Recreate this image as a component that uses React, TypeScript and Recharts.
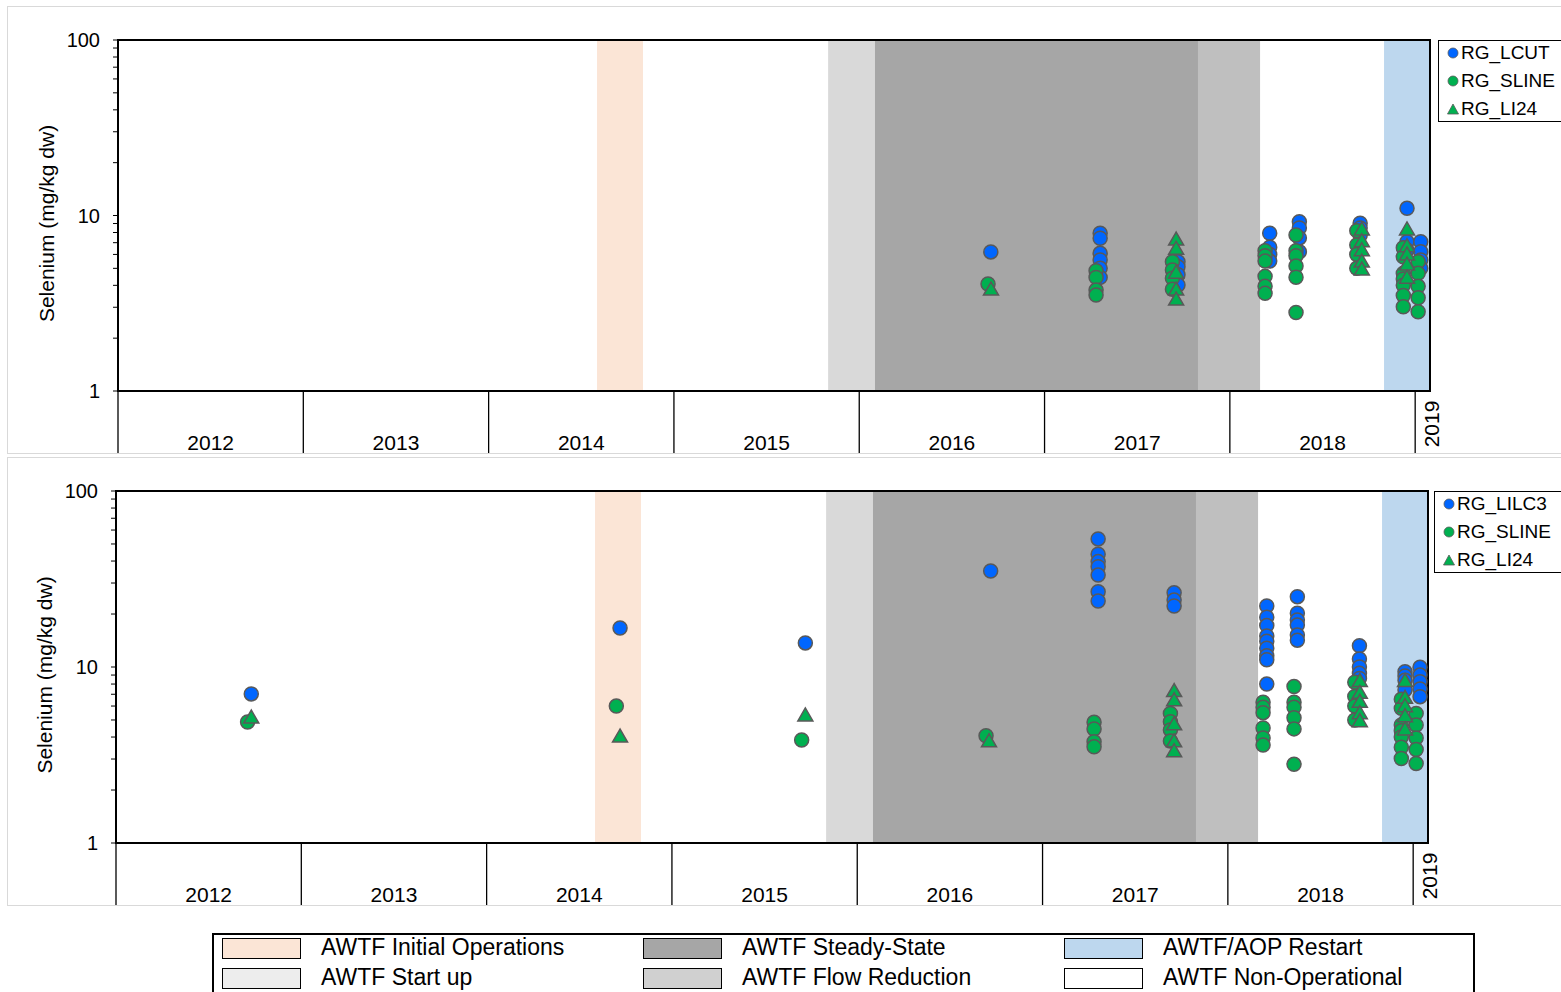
import React from 'react';
import { ScatterChart, Scatter, XAxis, YAxis, ReferenceArea } from 'recharts';

const FONT = '"Liberation Sans", Arial, Helvetica, sans-serif';

// ---------- axes ----------
const X_DOMAIN: [number, number] = [2012, 2019.08];
const YEAR_STARTS = [2012, 2013, 2014, 2015, 2016, 2017, 2018, 2019];
const YEAR_MIDS = [2012.5, 2013.5, 2014.5, 2015.5, 2016.5, 2017.5, 2018.5];
const Y_TICKS = [1, 2, 3, 4, 5, 6, 7, 8, 9, 10, 20, 30, 40, 50, 60, 70, 80, 90, 100];
const Y_LABELED = [1, 10, 100];
const Y_TITLE = 'Selenium (mg/kg dw)';

// ---------- operating periods ----------
const BAND_NAMES = ['AWTF Initial Operations', 'AWTF Start up', 'AWTF Steady-State', 'AWTF Flow Reduction', 'AWTF/AOP Restart'];
const BAND_START = [2014.585, 2015.832, 2016.085, 2017.828, 2018.832];
const BAND_END = [2014.833, 2016.085, 2017.828, 2018.163, 2019.08];
const BAND_FILL = ['#fbe5d6', '#d9d9d9', '#a6a6a6', '#bfbfbf', '#bdd7ee'];

const LEGEND_NAMES = [
  ['AWTF Initial Operations', 'AWTF Start up'],
  ['AWTF Steady-State', 'AWTF Flow Reduction'],
  ['AWTF/AOP Restart', 'AWTF Non-Operational'],
];
const LEGEND_FILLS = [
  ['#fbe5d6', '#ededed'],
  ['#a6a6a6', '#d0d0d0'],
  ['#bdd7ee', '#ffffff'],
];

// ---------- data: [decimal year, Se mg/kg dw] ----------
const RG_LCUT: [number, number][] = [
  [2016.71, 6.2],
  [2017.3, 7.92], [2017.3, 7.42], [2017.3, 6.09], [2017.3, 5.58], [2017.3, 5.0], [2017.3, 4.44],
  [2017.72, 5.45], [2017.72, 5.1], [2017.72, 4.6], [2017.72, 4.02],
  [2018.215, 7.92], [2018.215, 6.6], [2018.215, 6.0], [2018.215, 5.5],
  [2018.375, 9.22], [2018.375, 8.49], [2018.375, 7.45], [2018.375, 6.22],
  [2018.703, 9.03], [2018.703, 8.5], [2018.703, 7.7],
  [2018.956, 10.99], [2018.956, 7.09], [2018.956, 6.35],
  [2019.03, 7.09], [2019.03, 6.22], [2019.03, 5.58], [2019.03, 5.0],
];

const RG_LILC3: [number, number][] = [
  [2012.73, 7.03],
  [2014.72, 16.66],
  [2015.72, 13.7],
  [2016.72, 35.1],
  [2017.3, 53.4], [2017.3, 43.7], [2017.3, 39.7], [2017.3, 37.1], [2017.3, 33.3], [2017.3, 26.8], [2017.3, 23.7],
  [2017.71, 26.4], [2017.71, 24.0], [2017.71, 22.2],
  [2018.21, 22.2], [2018.21, 19.2], [2018.21, 17.2], [2018.21, 15.0], [2018.21, 14.0], [2018.21, 12.8], [2018.21, 11.6], [2018.21, 11.0], [2018.21, 8.0],
  [2018.375, 25.1], [2018.375, 20.2], [2018.375, 18.5], [2018.375, 17.3], [2018.375, 15.2], [2018.375, 14.2],
  [2018.71, 13.2], [2018.71, 11.1], [2018.71, 10.0], [2018.71, 9.2], [2018.71, 8.6],
  [2018.956, 9.4], [2018.956, 8.9], [2018.956, 8.4], [2018.956, 7.4],
  [2019.037, 9.96], [2019.037, 9.0], [2019.037, 8.25], [2019.037, 7.5], [2019.037, 6.78],
];

const RG_SLINE_EARLY: [number, number][] = [
  [2012.71, 4.87],
  [2014.7, 6.0],
  [2015.7, 3.85],
];

const RG_SLINE: [number, number][] = [
  [2016.695, 4.07],
  [2017.278, 4.85], [2017.278, 4.44], [2017.278, 3.76], [2017.278, 3.52],
  [2017.69, 5.45], [2017.69, 4.89], [2017.69, 4.39], [2017.69, 3.8],
  [2018.19, 6.3], [2018.19, 5.9], [2018.19, 5.5], [2018.19, 4.5], [2018.19, 3.95], [2018.19, 3.6],
  [2018.357, 7.74], [2018.357, 6.3], [2018.357, 5.9], [2018.357, 5.15], [2018.357, 4.45], [2018.357, 2.8],
  [2018.685, 8.2], [2018.685, 6.8], [2018.685, 6.0], [2018.685, 5.0],
  [2018.936, 6.55], [2018.936, 5.82], [2018.936, 4.68], [2018.936, 4.35], [2018.936, 4.0], [2018.936, 3.5], [2018.936, 3.02],
  [2019.016, 5.45], [2019.016, 4.68], [2019.016, 3.95], [2019.016, 3.4], [2019.016, 2.83],
];

const RG_LI24_EARLY: [number, number][] = [
  [2012.73, 5.13],
  [2014.72, 4.0],
  [2015.72, 5.27],
];

const RG_LI24: [number, number][] = [
  [2016.711, 3.76],
  [2017.71, 7.25], [2017.71, 6.42], [2017.71, 4.69], [2017.71, 3.76], [2017.71, 3.3],
  [2018.712, 8.27], [2018.712, 7.09], [2018.712, 6.3], [2018.712, 5.43], [2018.712, 4.89],
  [2018.956, 8.27], [2018.956, 6.64], [2018.956, 5.95], [2018.956, 5.22], [2018.956, 4.39],
];

const toPts = (arr: [number, number][]) => arr.map(([x, y]) => ({ x, y }));

const BLUE = '#0066ff';
const GREEN = '#00b050';
const EDGE = '#595959';

const circleShape = (fill: string) => (p: any) => (
  <circle cx={p.cx} cy={p.cy} r={7} fill={fill} stroke={EDGE} strokeWidth={1.5} />
);
const triShape = (p: any) => (
  <polygon
    points={`${p.cx},${p.cy - 8} ${p.cx - 7.5},${p.cy + 5} ${p.cx + 7.5},${p.cy + 5}`}
    fill={GREEN}
    stroke={EDGE}
    strokeWidth={1.5}
  />
);

type PanelProps = {
  top: number;
  left: number;
  height: number;
  blue: [number, number][];
  sline: [number, number][];
  li24: [number, number][];
};

function Panel({ top, left, height, blue, sline, li24 }: PanelProps) {
  const W = 1561;
  const H = height;
  const plotBottom = H - 63;

  const xTick = (p: any) => {
    const { x, payload } = p;
    const v = payload.value as number;
    if (YEAR_STARTS.includes(v)) {
      return (
        <g>
          <line x1={x} x2={x} y1={plotBottom} y2={H} stroke="#000" strokeWidth={1.3} />
          {v === 2019 && (
            <text
              x={x + 24}
              y={H - 30}
              transform={`rotate(-90 ${x + 24} ${H - 30})`}
              textAnchor="middle"
              fontSize={21}
              fontFamily={FONT}
              fill="#000"
            >
              2019
            </text>
          )}
        </g>
      );
    }
    return (
      <text x={x} y={H - 4} textAnchor="middle" fontSize={21} fontFamily={FONT} fill="#000">
        {String(Math.floor(v))}
      </text>
    );
  };

  const yLabel = (p: any) => {
    const vb = p.viewBox || { x: 0, y: 40, width: 118, height: H - 103 };
    const cy = vb.y + vb.height / 2 + 8;
    const cx = 54;
    return (
      <text
        x={cx}
        y={cy}
        transform={`rotate(-90 ${cx} ${cy})`}
        textAnchor="middle"
        fontSize={21}
        fontFamily={FONT}
        fill="#000"
      >
        {Y_TITLE}
      </text>
    );
  };

  return (
    <div style={{ position: 'absolute', left, top, width: W, height: H }}>
      <ScatterChart width={W} height={H} margin={{ top: 40, right: 131, bottom: 1, left: 0 }}>
        <XAxis
          type="number"
          dataKey="x"
          domain={X_DOMAIN}
          allowDataOverflow
          ticks={[...YEAR_STARTS, ...YEAR_MIDS].sort((a, b) => a - b)}
          interval={0}
          height={62}
          axisLine={{ stroke: '#000', strokeWidth: 2 }}
          tickLine={false}
          tick={xTick}
        />
        <YAxis
          type="number"
          dataKey="y"
          scale="log"
          domain={[1, 100]}
          allowDataOverflow
          ticks={Y_TICKS}
          interval={0}
          width={118}
          tickSize={5}
          tickMargin={13}
          axisLine={{ stroke: '#000', strokeWidth: 2 }}
          tickLine={{ stroke: '#000', strokeWidth: 1 }}
          tick={{ fontSize: 20, fontFamily: FONT, fill: '#000' }}
          tickFormatter={(v: number) => (Y_LABELED.includes(v) ? String(v) : '')}
          label={yLabel}
        />
        {BAND_NAMES.map((n, i) => (
          <ReferenceArea
            key={n}
            x1={BAND_START[i]}
            x2={BAND_END[i]}
            y1={1}
            y2={100}
            fill={BAND_FILL[i]}
            fillOpacity={1}
            stroke="none"
            ifOverflow="hidden"
          />
        ))}
        <ReferenceArea
          x1={X_DOMAIN[0]}
          x2={X_DOMAIN[1]}
          y1={1}
          y2={100}
          fill="none"
          fillOpacity={0}
          stroke="#000"
          strokeWidth={2}
        />
        <Scatter data={toPts(blue)} fill={BLUE} shape={circleShape(BLUE)} isAnimationActive={false} />
        <Scatter data={toPts(sline)} fill={GREEN} shape={circleShape(GREEN)} isAnimationActive={false} />
        <Scatter data={toPts(li24)} fill={GREEN} shape={triShape} isAnimationActive={false} />
      </ScatterChart>
    </div>
  );
}

function SeriesLegend({ left, top, blueName }: { left: number; top: number; blueName: string }) {
  const rows = [
    { name: blueName, kind: 'blue' },
    { name: 'RG_SLINE', kind: 'green' },
    { name: 'RG_LI24', kind: 'tri' },
  ];
  return (
    <div
      style={{
        position: 'absolute',
        left,
        top,
        width: 140,
        height: 82,
        border: '1.5px solid #000',
        boxSizing: 'border-box',
        background: '#fff',
        fontFamily: FONT,
        fontSize: 19,
        color: '#000',
      }}
    >
      {rows.map((r, i) => (
        <div key={r.name} style={{ position: 'absolute', left: 7, top: i * 28 - 2, height: 28, lineHeight: '28px', whiteSpace: 'nowrap', display: 'flex', alignItems: 'center' }}>
          <svg width={14} height={14} style={{ marginRight: 1 }}>
            {r.kind === 'tri' ? (
              <polygon points="7,2 1.5,12 12.5,12" fill={GREEN} stroke={EDGE} strokeWidth={0.8} />
            ) : (
              <circle cx={7} cy={7} r={5} fill={r.kind === 'blue' ? BLUE : GREEN} stroke={EDGE} strokeWidth={0.8} />
            )}
          </svg>
          <span>{r.name}</span>
        </div>
      ))}
    </div>
  );
}

function PeriodLegend() {
  return (
    <div
      style={{
        position: 'absolute',
        left: 212,
        top: 933,
        width: 1263,
        height: 80,
        border: '2px solid #000',
        boxSizing: 'border-box',
        background: '#fff',
        fontFamily: FONT,
        fontSize: 23,
        color: '#000',
      }}
    >
      {LEGEND_NAMES.map((col, c) =>
        col.map((name, r) => (
          <div key={name} style={{ position: 'absolute', left: 8 + c * 421, top: 2 + r * 30, height: 23, display: 'flex', alignItems: 'center', whiteSpace: 'nowrap' }}>
            <div style={{ width: 79, height: 21, boxSizing: 'border-box', border: '1.5px solid #000', background: LEGEND_FILLS[c][r] }} />
            <span style={{ marginLeft: 20, lineHeight: '23px', position: 'relative', top: -1 }}>{name}</span>
          </div>
        ))
      )}
    </div>
  );
}

export default function App() {
  return (
    <div style={{ position: 'absolute', left: 0, top: 0, width: 1561, height: 992, overflow: 'hidden', background: '#fff', fontFamily: FONT }}>
      <Panel top={0} left={0} height={454} blue={RG_LCUT} sline={RG_SLINE} li24={RG_LI24} />
      <Panel
        top={451}
        left={-2}
        height={455}
        blue={RG_LILC3}
        sline={[...RG_SLINE_EARLY, ...RG_SLINE]}
        li24={[...RG_LI24_EARLY, ...RG_LI24]}
      />
      <div style={{ position: 'absolute', left: 7, top: 6, width: 1600, height: 448, border: '1.5px solid #d9d9d9', boxSizing: 'border-box', pointerEvents: 'none' }} />
      <div style={{ position: 'absolute', left: 7, top: 457, width: 1600, height: 449, border: '1.5px solid #d9d9d9', boxSizing: 'border-box', pointerEvents: 'none' }} />
      <SeriesLegend left={1438} top={40} blueName="RG_LCUT" />
      <SeriesLegend left={1434} top={491} blueName="RG_LILC3" />
      <PeriodLegend />
    </div>
  );
}
